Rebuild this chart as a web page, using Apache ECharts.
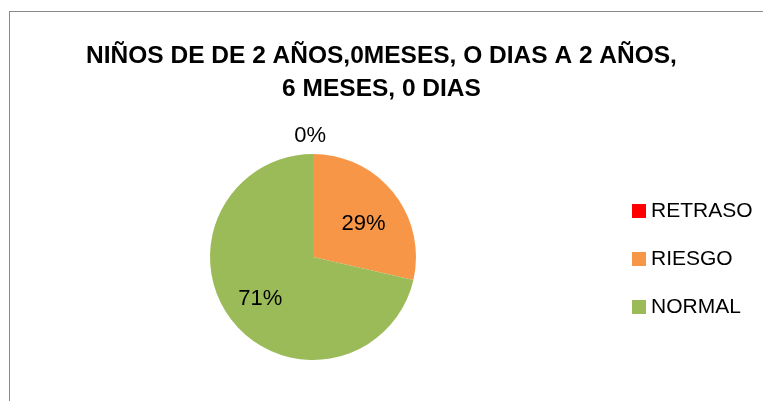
<!DOCTYPE html>
<html>
<head>
<meta charset="utf-8">
<script src="https://cdn.jsdelivr.net/npm/echarts@6/dist/echarts.min.js"></script>
<style>
  html, body { margin: 0; padding: 0; background: #fff; overflow: hidden; }
  #frame { position: absolute; left: 9px; top: 11px; width: 900px; height: 600px; border: 1px solid #8a8a8a; }
  #chart { position: absolute; left: 0; top: 0; width: 763px; height: 401px; }
</style>
</head>
<body>
<div id="frame"></div>
<div id="chart"></div>
<script>
var titleText = 'NIÑOS DE DE 2 AÑOS,0MESES, O DIAS A 2 AÑOS,\n6 MESES, 0 DIAS'
var categories = ['RETRASO', 'RIESGO', 'NORMAL']
var values = [0, 2, 5]
var colors = ['#ff0000', '#f79646', '#9bbb59']

// label nudges so the percentages sit where the original puts them
var labelOpts = [
  { position: 'outside', offset: [18, -6] },
  { position: 'inside', offset: [8, 1] },
  { position: 'inside', offset: [-10, 8] }
]

var font = '"Liberation Sans Narrow", "Liberation Sans", sans-serif'

var chart = echarts.init(document.getElementById('chart'))

var data = categories.map(function (name, i) {
  return {
    name: name,
    value: values[i],
    itemStyle: { color: colors[i] },
    label: labelOpts[i],
    labelLine: { show: false, length: 12, length2: 0 }
  }
})

chart.setOption({
  animation: false,
  title: {
    text: titleText,
    left: 'center',
    top: 35,
    textStyle: {
      fontFamily: font,
      fontWeight: 'bold',
      fontSize: 24.5,
      lineHeight: 33,
      color: '#000'
    }
  },
  legend: {
    orient: 'vertical',
    left: 627,
    top: 195,
    itemWidth: 14,
    itemHeight: 14,
    itemGap: 26,
    icon: 'rect',
    data: categories,
    textStyle: {
      fontFamily: font,
      fontSize: 21,
      lineHeight: 22,
      color: '#000'
    }
  },
  series: [
    {
      type: 'pie',
      center: [313, 257],
      radius: [0, 103],
      startAngle: 90,
      clockwise: true,
      avoidLabelOverlap: false,
      label: {
        show: true,
        formatter: '{d}%',
        fontFamily: font,
        fontSize: 22,
        color: '#000'
      },
      percentPrecision: 0,
      itemStyle: { borderWidth: 0 },
      emphasis: { disabled: true },
      data: data
    }
  ]
})
</script>
</body>
</html>
